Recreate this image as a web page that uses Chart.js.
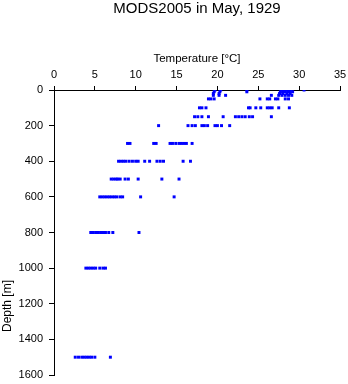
<!DOCTYPE html>
<html>
<head>
<meta charset="utf-8">
<script src="https://cdn.jsdelivr.net/npm/chart.js@4/dist/chart.umd.min.js"></script>
<style>
  html, body { margin: 0; padding: 0; background: #fff; }
  #wrap { width: 348px; height: 384px; }
</style>
</head>
<body>
<div id="wrap"><canvas id="chart" width="348" height="384"></canvas></div>
<script>
// Observed depth levels (m) and the temperatures (°C) measured at each level
const depthLevels = [0, 10, 20, 30, 50, 100, 150, 200, 300, 400, 500, 600, 800, 1000, 1500];

const temps0 = [19.7, 20.4, 23.6, 27.8, 28.1, 28.4, 28.7, 29.0, 30.6];
const temps10 = [19.6, 20.3, 23.6, 27.7, 28.0, 28.3, 28.6, 28.9, 29.2];
const temps20 = [19.5, 20.2, 27.6, 28.0, 28.5, 28.9];
const temps30 = [19.5, 20.2, 21.0, 26.6, 27.5, 27.9, 28.3, 28.7, 29.1];
const temps50 = [18.9, 19.2, 19.6, 25.2, 26.1, 26.4, 27.1, 27.4, 28.3, 28.7];
const temps100 = [17.8, 18.1, 18.6, 23.8, 24.0, 24.7, 25.3, 26.1, 26.4, 26.7, 27.5, 28.8];
const temps150 = [17.2, 17.6, 18.1, 18.9, 20.7, 22.2, 22.6, 23.0, 23.4, 23.9, 24.3, 26.6];
const temps200 = [12.8, 16.4, 16.9, 17.3, 18.1, 18.4, 18.8, 19.7, 20.0, 20.5, 21.5];
const temps300 = [9.0, 9.3, 12.2, 12.5, 14.2, 14.5, 14.9, 15.3, 15.6, 15.9, 16.2, 16.9];
const temps400 = [7.9, 8.2, 8.5, 8.8, 9.2, 9.6, 10.0, 10.3, 11.1, 11.7, 12.6, 13.0, 13.4, 15.8, 16.7];
const temps500 = [7.0, 7.3, 7.6, 7.8, 8.1, 8.7, 9.1, 10.3, 13.2, 15.3];
const temps600 = [5.6, 5.9, 6.2, 6.5, 6.8, 7.1, 7.4, 7.7, 8.1, 8.4, 10.6, 14.7];
const temps800 = [4.5, 4.8, 5.1, 5.4, 5.7, 6.0, 6.3, 6.7, 7.2, 10.4];
const temps1000 = [3.9, 4.2, 4.5, 4.8, 5.1, 5.6, 6.0, 6.3];
const temps1500 = [2.6, 3.0, 3.4, 3.7, 4.0, 4.3, 4.6, 5.0, 6.9];

const tempsByLevel = [temps0, temps10, temps20, temps30, temps50, temps100, temps150,
    temps200, temps300, temps400, temps500, temps600, temps800, temps1000, temps1500];

const chartTitle = 'MODS2005 in May, 1929';
const xTitle = 'Temperature [°C]';
const yTitle = 'Depth [m]';

// Build the scatter points: x = temperature, y = depth
const points = [];
depthLevels.forEach((depth, i) => {
    tempsByLevel[i].forEach(t => points.push({ x: t, y: depth }));
});

const FONT = '"Liberation Sans", Arial, Helvetica, sans-serif';

// Draws the chart title and the rotated depth label
const textPlugin = {
    id: 'textPlugin',
    afterDraw(chart) {
        const ctx = chart.ctx;
        const area = chart.chartArea;
        ctx.save();
        ctx.fillStyle = '#000';
        ctx.textAlign = 'center';
        ctx.textBaseline = 'middle';
        ctx.font = '15px ' + FONT;
        ctx.fillText(chartTitle, (area.left + area.right) / 2, 9);
        ctx.translate(8, 306);
        ctx.rotate(-Math.PI / 2);
        ctx.font = '12px ' + FONT;
        ctx.fillText(yTitle, 0, 0);
        ctx.restore();
    }
};

// Keep each axis at a fixed size and drop the edge-label padding
function fixSize(prop, value) {
    return function(scale) {
        scale[prop] = value;
        scale.paddingLeft = 0;
        scale.paddingRight = 0;
        scale.paddingTop = 0;
        scale.paddingBottom = 0;
    };
}

new Chart(document.getElementById('chart'), {
    type: 'scatter',
    data: {
        datasets: [{
            data: points,
            backgroundColor: '#0000ff',
            borderWidth: 0,
            pointStyle: 'rect',
            pointRadius: 2.1,
            pointHoverRadius: 2.1
        }]
    },
    options: {
        responsive: false,
        animation: false,
        layout: { padding: { left: 0, top: 0, right: 8, bottom: 9 } },
        plugins: {
            legend: { display: false },
            tooltip: { enabled: false },
            title: { display: false }
        },
        scales: {
            x: {
                type: 'linear',
                position: 'top',
                min: 0,
                max: 35,
                afterFit: fixSize('height', 90),
                ticks: {
                    stepSize: 5,
                    padding: 4,
                    color: '#000',
                    font: { family: FONT, size: 11 },
                    maxRotation: 0,
                    callback: v => String(v)
                },
                grid: {
                    drawOnChartArea: false,
                    drawTicks: true,
                    tickLength: 4,
                    color: '#000'
                },
                border: { display: true, color: '#000', width: 1 },
                title: {
                    display: true,
                    text: xTitle,
                    color: '#000',
                    font: { family: FONT, size: 11.5 },
                    padding: { top: 52, bottom: 0 }
                }
            },
            y: {
                type: 'linear',
                reverse: true,
                min: 0,
                max: 1600,
                afterFit: fixSize('width', 54),
                ticks: {
                    stepSize: 200,
                    padding: 6,
                    color: '#000',
                    font: { family: FONT, size: 11 },
                    callback: v => String(v)
                },
                grid: {
                    drawOnChartArea: false,
                    drawTicks: true,
                    tickLength: 5,
                    color: '#000'
                },
                border: { display: true, color: '#000', width: 1 }
            }
        }
    },
    plugins: [textPlugin]
});
</script>
</body>
</html>
